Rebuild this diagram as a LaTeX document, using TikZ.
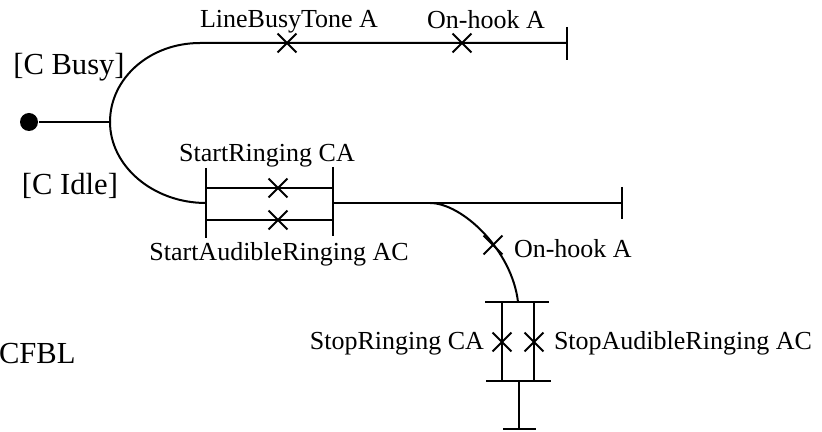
\documentclass[tikz,border=0pt]{standalone}
\usepackage{fontspec}
\setmainfont{Liberation Serif}
\usetikzlibrary{shapes.misc,positioning}
\begin{document}
\begin{tikzpicture}[x=0.5pt,y=-0.5pt,line width=1pt,
  evt/.style={draw,cross out,minimum size=8.5pt,inner sep=0pt,line width=0.9pt},
  lbl/.style={font=\fontsize{13}{15}\selectfont,inner sep=0pt,anchor=base},
  cond/.style={font=\fontsize{15.3}{18}\selectfont,inner sep=0pt,anchor=base}]
  \useasboundingbox (0,0) rectangle (822,432);
  % start point and fork
  \node[circle,fill,inner sep=0pt,minimum size=9pt] (start) at (29,122) {};
  \coordinate (fork) at (110,122);
  \coordinate (busy) at (200,43);
  \coordinate (busyEnd) at (567,43);
  \coordinate (idle) at (206,203);
  \coordinate (idleR) at (333,203);
  \coordinate (ringL) at (206,188);
  \coordinate (ringR) at (333,188);
  \coordinate (audL) at (206,220);
  \coordinate (audR) at (333,220);
  \coordinate (hang) at (430,203);
  \coordinate (mainEnd) at (622,203);
  \coordinate (stopT) at (518,302);
  \coordinate (stopB) at (519,381);
  \coordinate (stopEnd) at (519,429);
  \coordinate (ringT) at (502,302);
  \coordinate (ringB) at (502,381);
  \coordinate (audT) at (534,302);
  \coordinate (audB) at (534,381);
  \draw (start) -- (fork);
  % busy branch
  \draw (fork) .. controls (110,78) and (150,43) .. (busy) -- (busyEnd);
  \draw (busyEnd) ++(0,-16) -- ++(0,33);
  \node[evt] (busyTone) at (287,43) {};
  \node[evt] (hookA) at (462,43) {};
  \node[lbl] (busyToneLbl) at (289,28) {LineBusyTone A};
  \node[lbl] (hookALbl) at (486,29) {On-hook A};
  % idle branch
  \draw (fork) .. controls (110,166) and (153,203) .. (idle);
  \draw (idle) ++(0,-35) -- ++(0,70);
  \draw (idleR) ++(0,-36) -- ++(0,69);
  \draw (ringL) -- (ringR);
  \draw (audL) -- (audR);
  \node[evt] (ring) at (278,188) {};
  \node[evt] (aud) at (278,220) {};
  \node[lbl] (ringLbl) at (267,162) {StartRinging CA};
  \node[lbl] (audLbl) at (279,261) {StartAudibleRinging AC};
  \draw (idleR) -- (mainEnd);
  \draw (mainEnd) ++(0,-16) -- ++(0,32);
  % on-hook while ringing
  \draw (hang) .. controls (462,203) and (512,250) .. (stopT);
  \node[evt] (hangB) at (493,245) {};
  \node[lbl,anchor=base west] (hangLbl) at (513,257) {On-hook A};
  \draw (stopT) ++(-33,0) -- ++(64,0);
  \draw (stopB) ++(-33,0) -- ++(65,0);
  \draw (ringT) -- (ringB);
  \draw (audT) -- (audB);
  \node[evt] (stopRing) at (502,342) {};
  \node[evt] (stopAud) at (534,342) {};
  \node[lbl,anchor=base east] (stopRingLbl) at (485,349) {StopRinging CA};
  \node[lbl,anchor=base west] (stopAudLbl) at (553,349) {StopAudibleRinging AC};
  \draw (stopB) -- (stopEnd);
  \draw (stopEnd) ++(-16,0) -- ++(33,0);
  % conditions
  \node[cond] (busyCond) at (69,75) {[C Busy]};
  \node[cond] (idleCond) at (70,195) {[C Idle]};
  \node[cond,anchor=base west] (cfbl) at (-2,363) {CFBL};
\end{tikzpicture}
\end{document}
